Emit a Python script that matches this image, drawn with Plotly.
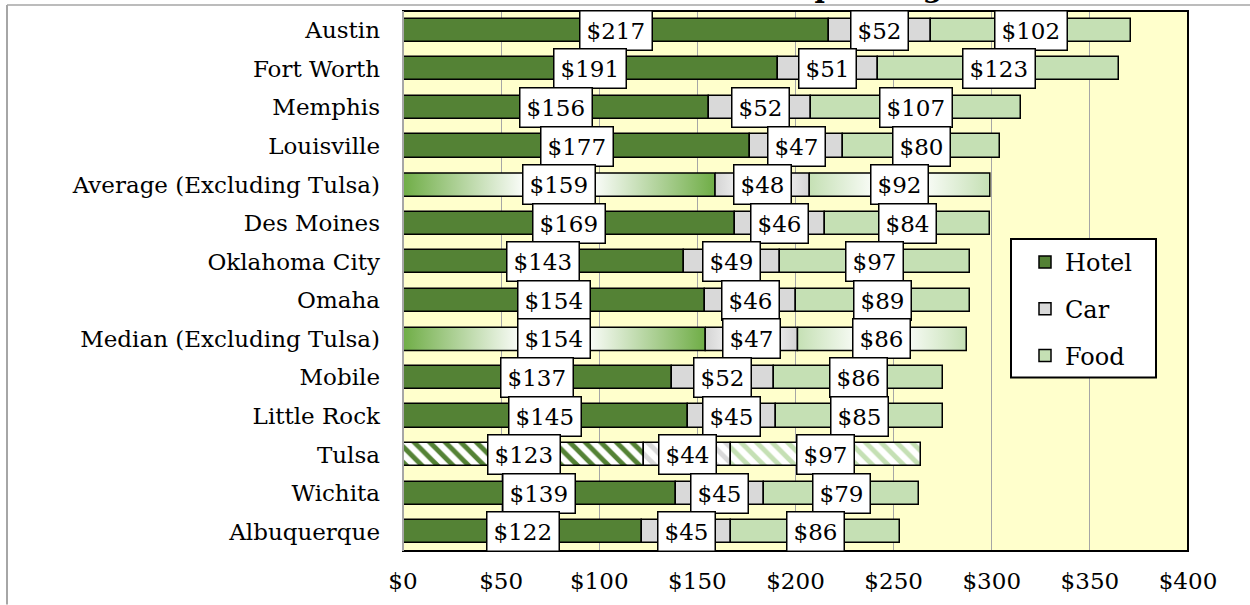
import plotly.graph_objects as go

# ---- data -------------------------------------------------------------
cities = [
    "Austin", "Fort Worth", "Memphis", "Louisville", "Average (Excluding Tulsa)",
    "Des Moines", "Oklahoma City", "Omaha", "Median (Excluding Tulsa)", "Mobile",
    "Little Rock", "Tulsa", "Wichita", "Albuquerque",
]
hotel = [217, 191, 156, 177, 159, 169, 143, 154, 154, 137, 145, 123, 139, 122]
car = [52, 51, 52, 47, 48, 46, 49, 46, 47, 52, 45, 44, 45, 45]
food = [102, 123, 107, 80, 92, 84, 97, 89, 86, 86, 85, 97, 79, 86]

summary_rows = ["Average (Excluding Tulsa)", "Median (Excluding Tulsa)"]
hatched_rows = ["Tulsa"]

x_ticks = [0, 50, 100, 150, 200, 250, 300, 350, 400]
x_tick_text = ["$0", "$50", "$100", "$150", "$200", "$250", "$300", "$350", "$400"]

# ---- styling ----------------------------------------------------------
W, H = 1250, 605
ML, MR, MT, MB = 403, 62, 11, 49
PW, PH = W - ML - MR, H - MT - MB
FONT = "DejaVu Serif"
BAR_W = 0.6

HOTEL_C, CAR_C, FOOD_C = "#548235", "#D9D9D9", "#C5E0B4"
GRAD_C = {"Hotel": "#6FAD46", "Car": "#D4D4D4", "Food": "#C5E0B4"}


def px_to_paper_x(px):
    return (px - ML) / PW


def px_to_paper_y(py):
    return 1 - (py - MT) / PH


idx = list(range(len(cities)))
series = [("Hotel", hotel, HOTEL_C), ("Car", car, CAR_C), ("Food", food, FOOD_C)]

bases = []
run = [0] * len(cities)
for name, vals, col in series:
    bases.append(list(run))
    run = [r + v for r, v in zip(run, vals)]

fig = go.Figure()

# solid bars (ordinary rows)
for (name, vals, col), base in zip(series, bases):
    xs = [v if c not in summary_rows + hatched_rows else None for v, c in zip(vals, cities)]
    fig.add_trace(go.Bar(
        y=idx, x=xs, base=base, orientation="h", name=name, width=BAR_W,
        marker=dict(color=col, line=dict(color="black", width=1.5)),
        legendgroup=name, hoverinfo="skip",
    ))

# hatched bars (Tulsa)
for (name, vals, col), base in zip(series, bases):
    xs = [v if c in hatched_rows else None for v, c in zip(vals, cities)]
    fig.add_trace(go.Bar(
        y=idx, x=xs, base=base, orientation="h", name=name, width=BAR_W,
        marker=dict(color="white", line=dict(color="black", width=1.5),
                    pattern=dict(shape="\\", fgcolor=col, bgcolor="white",
                                 size=11, solidity=0.45, fillmode="replace")),
        showlegend=False, hoverinfo="skip",
    ))

# gradient bars (summary rows): outline polygons with a horizontal fill gradient
for (name, vals, col), base in zip(series, bases):
    for i, c in enumerate(cities):
        if c not in summary_rows:
            continue
        s, e = base[i], base[i] + vals[i]
        y0, y1 = i - BAR_W / 2, i + BAR_W / 2
        g = GRAD_C[name]
        fig.add_trace(go.Scatter(
            x=[s, e, e, s, s], y=[y0, y0, y1, y1, y0], mode="lines",
            fill="toself", line=dict(color="black", width=1.5),
            fillgradient=dict(type="horizontal",
                              colorscale=[[0, g], [0.4, "white"], [0.6, "white"], [1, g]]),
            showlegend=False, hoverinfo="skip",
        ))

# value labels
annotations = []
for (name, vals, col), base in zip(series, bases):
    for i, v in enumerate(vals):
        annotations.append(dict(
            x=base[i] + v / 2, y=i, xref="x", yref="y", text=f"${v}",
            showarrow=False, font=dict(family=FONT, size=23, color="black"),
            bgcolor="white", bordercolor="black", borderwidth=1.5, borderpad=6,
        ))

# title (sits above the top edge of the chart area)
annotations.append(dict(
    x=px_to_paper_x(686), y=px_to_paper_y(6), xref="paper", yref="paper",
    xanchor="left", yanchor="bottom", showarrow=False, text="<b>Travel Spending</b>",
    font=dict(family=FONT, size=28, color="black"),
))

shapes = [
    # plot-area frame
    dict(type="rect", xref="paper", yref="paper", x0=0, x1=1, y0=0, y1=1,
         line=dict(color="black", width=2), layer="above"),
    dict(type="line", xref="paper", yref="paper", x0=0, x1=0, y0=0, y1=1,
         line=dict(color="#A6A6A6", width=2), layer="above"),
    # legend frame
    dict(type="rect", xref="paper", yref="paper",
         x0=px_to_paper_x(1011), x1=px_to_paper_x(1156),
         y0=px_to_paper_y(381), y1=px_to_paper_y(241),
         fillcolor="white", line=dict(color="black", width=2), layer="above"),
    # outer chart-area border
    dict(type="line", xref="paper", yref="paper",
         x0=px_to_paper_x(7), x1=px_to_paper_x(7), y0=px_to_paper_y(5), y1=px_to_paper_y(610),
         line=dict(color="#A6A6A6", width=2)),
    dict(type="line", xref="paper", yref="paper",
         x0=px_to_paper_x(7), x1=px_to_paper_x(1260), y0=px_to_paper_y(5), y1=px_to_paper_y(5),
         line=dict(color="#A6A6A6", width=1.5)),
]

fig.update_layout(
    width=W, height=H, margin=dict(l=ML, r=MR, t=MT, b=MB, pad=0),
    paper_bgcolor="white", plot_bgcolor="#FFFFCC",
    barmode="overlay", bargap=0,
    font=dict(family=FONT, size=23, color="black"),
    xaxis=dict(range=[0, 400], tickvals=x_ticks, ticktext=x_tick_text,
               showgrid=True, gridcolor="#A6A6A6", gridwidth=1, zeroline=False,
               showline=False, ticks="", ticklabelstandoff=14,
               tickfont=dict(family=FONT, size=23)),
    yaxis=dict(range=[len(cities) - 0.5, -0.5], tickvals=idx, ticktext=cities,
               showgrid=False, zeroline=False, showline=False, ticks="",
               ticklabelstandoff=22, tickfont=dict(family=FONT, size=23)),
    legend=dict(x=px_to_paper_x(1025), y=px_to_paper_y(242), xanchor="left", yanchor="top",
                bgcolor="rgba(0,0,0,0)", borderwidth=0,
                font=dict(family=FONT, size=24), traceorder="grouped", tracegroupgap=12.5),
    annotations=annotations, shapes=shapes,
)

fig.write_html("out.html")
